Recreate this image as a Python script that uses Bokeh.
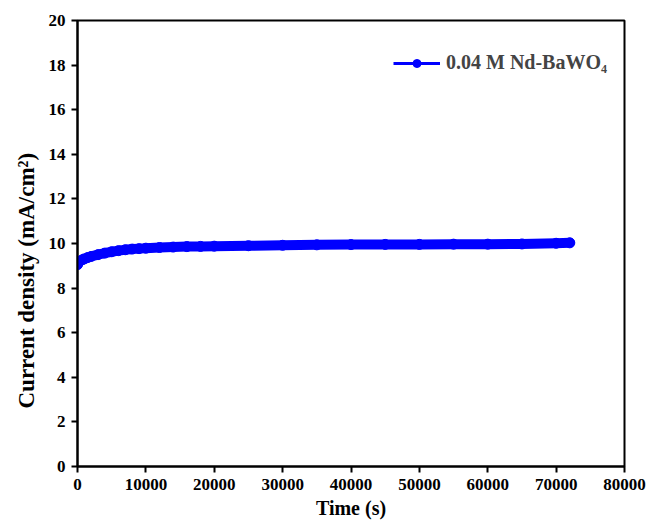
from bokeh.plotting import figure
from bokeh.models import Legend, LegendItem, FixedTicker, Range1d, Title
from bokeh.embed import file_html
from bokeh.resources import INLINE

time_s = [0, 300, 700, 1000, 1500, 2000, 3000, 4000, 5000, 6000, 7000, 8000, 9000, 10000,
          12000, 14000, 16000, 18000, 20000, 25000, 30000, 35000, 40000, 45000, 50000,
          55000, 60000, 65000, 70000, 72000]
current = [9.05, 9.2, 9.27, 9.31, 9.37, 9.42, 9.5, 9.57, 9.63, 9.68, 9.72, 9.75, 9.77, 9.79,
           9.82, 9.84, 9.86, 9.87, 9.88, 9.90, 9.92, 9.94, 9.95, 9.96, 9.96,
           9.97, 9.97, 9.98, 10.01, 10.03]
series_label = "0.04 M Nd-BaWO\u2084"
x_ticks = [0, 10000, 20000, 30000, 40000, 50000, 60000, 70000, 80000]
y_ticks = [0, 2, 4, 6, 8, 10, 12, 14, 16, 18, 20]

FONT = "Liberation Serif"
BLUE = "#0000FF"

p = figure(width=648, height=522, output_backend="svg", toolbar_location=None,
           x_range=Range1d(0, 80000), y_range=Range1d(0, 20),
           min_border_left=77, min_border_right=24, min_border_top=20, min_border_bottom=56)

p.line(time_s, current, line_color=BLUE, line_width=10, line_cap="round", line_join="round")
thin = p.line(time_s, current, line_color=BLUE, line_width=3)
dots = p.scatter(time_s, current, size=10, fill_color=BLUE, line_color=BLUE)

p.xgrid.visible = False
p.ygrid.visible = False
p.outline_line_color = "black"
p.outline_line_width = 2
p.background_fill_color = "white"
p.border_fill_color = "white"

for ax in (p.xaxis[0], p.yaxis[0]):
    ax.axis_line_width = 2
    ax.major_tick_line_width = 2
    ax.major_tick_out = 6
    ax.major_tick_in = 0
    ax.minor_tick_line_color = None
    ax.major_label_text_font = FONT
    ax.major_label_text_font_style = "bold"
    ax.major_label_text_font_size = "17px"
    ax.major_label_text_color = "black"
    ax.axis_label_text_font = FONT
    ax.axis_label_text_font_style = "bold"
    ax.axis_label_text_color = "black"
    ax.major_label_standoff = 6

p.xaxis.ticker = FixedTicker(ticks=x_ticks)
p.yaxis.ticker = FixedTicker(ticks=y_ticks)
p.xaxis.axis_label = "Time (s)"
p.xaxis.axis_label_text_font_size = "20px"
p.xaxis.axis_label_standoff = 4

ytitle = Title(text="Current density (mA/cm\u00b2)", align="left", offset=58,
               text_font=FONT, text_font_style="bold", text_font_size="23px",
               text_color="black", standoff=13)
p.add_layout(ytitle, "left")

legend = Legend(items=[LegendItem(label=series_label, renderers=[thin, dots])],
                location=(316, 392), border_line_color=None, background_fill_alpha=0,
                label_text_font=FONT, label_text_font_style="bold", label_text_font_size="20px",
                glyph_width=47, glyph_height=20, padding=0, margin=0, spacing=0,
                label_standoff=6, label_height=20)
p.add_layout(legend, "center")

open("out.html", "w").write(file_html(p, INLINE))
